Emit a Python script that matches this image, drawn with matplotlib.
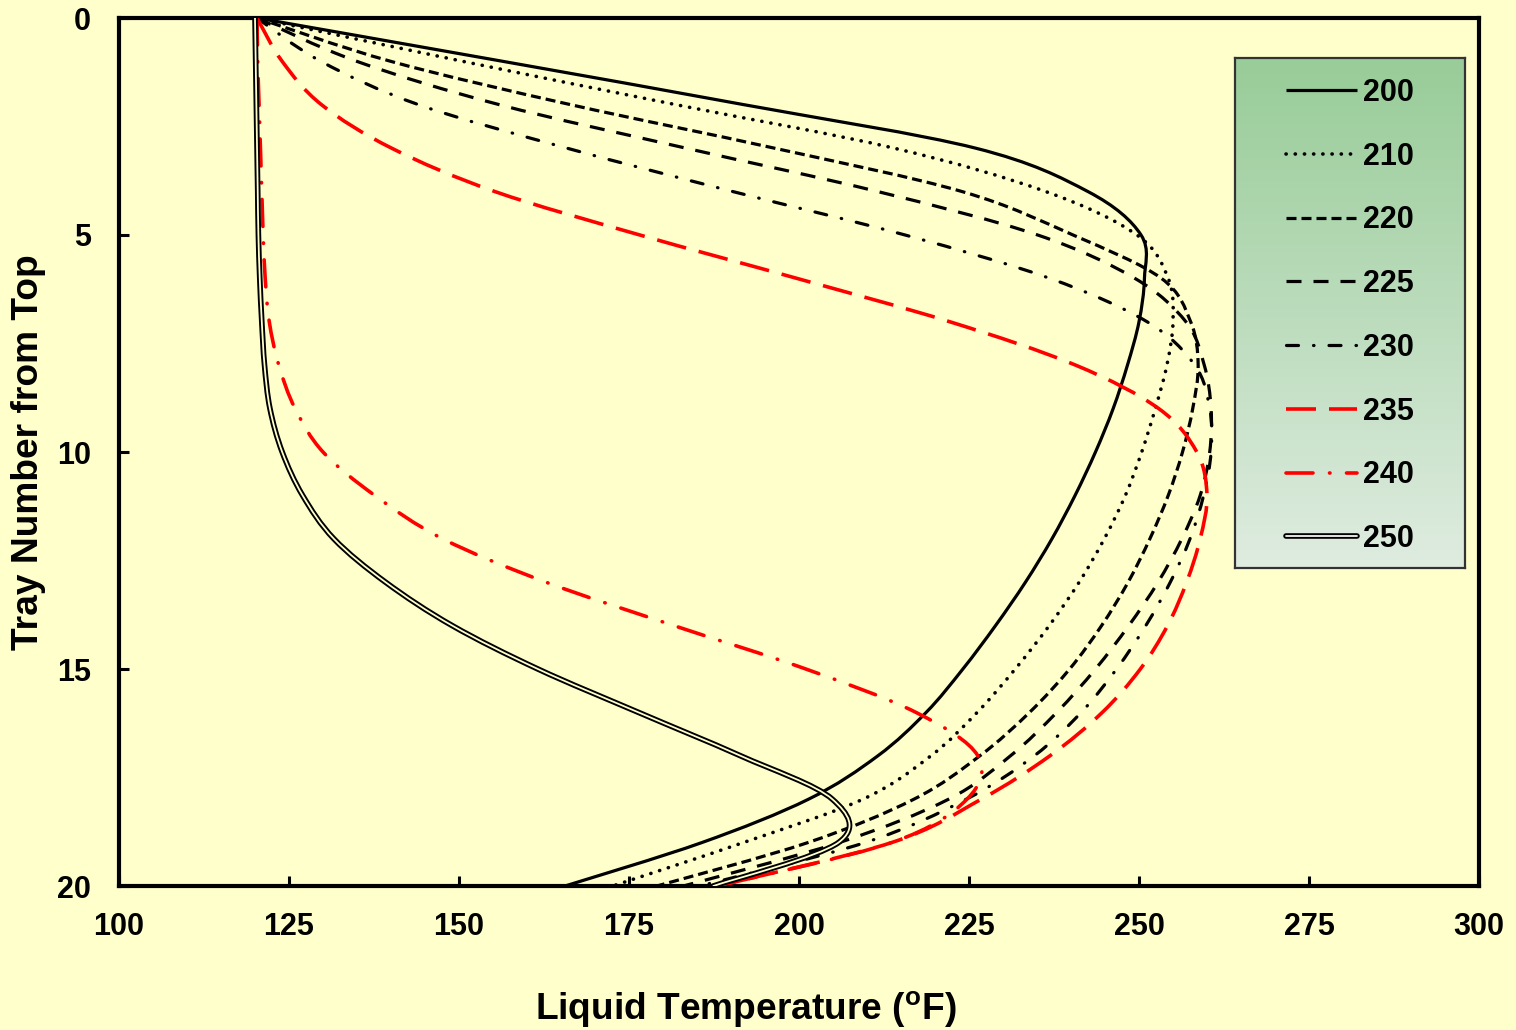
import numpy as np
import matplotlib
matplotlib.use("Agg")
import matplotlib.pyplot as plt
from matplotlib.path import Path
from matplotlib.patches import PathPatch
from matplotlib.lines import Line2D
from matplotlib.colors import LinearSegmentedColormap

# ---- data: liquid temperature (°F) on each tray, one list per case ----
trays = list(range(21))
t200 = [120.3, 156.5, 192.0, 226.0, 242.5, 250.3, 250.8, 250.0, 248.3, 246.2, 243.6,
        240.6, 237.2, 233.3, 228.9, 224.1, 218.7, 211.6, 201.4, 185.7, 165.6]
t210 = [120.3, 150.6, 182.0, 214.0, 236.3, 249.7, 254.3, 255.0, 254.1, 252.4, 250.4,
        248.0, 244.9, 241.2, 236.8, 231.8, 226.2, 219.4, 209.4, 191.8, 172.6]
t220 = [120.3, 140.0, 166.5, 196.4, 224.0, 240.3, 253.3, 257.6, 258.7, 257.9, 256.4,
        254.3, 251.6, 248.4, 244.5, 239.8, 233.9, 226.6, 216.9, 201.3, 179.1]
t225 = [120.3, 135.0, 156.0, 183.4, 211.6, 235.1, 249.4, 256.9, 259.6, 260.6, 260.4,
        259.0, 256.3, 252.8, 248.5, 243.6, 237.9, 231.1, 222.0, 205.9, 183.0]
t230 = [120.3, 129.7, 144.1, 165.9, 190.3, 215.6, 236.9, 251.2, 258.2, 260.4, 260.6,
        259.5, 257.5, 254.6, 251.0, 246.7, 241.5, 234.6, 224.6, 209.7, 185.4]
t235 = [120.3, 124.0, 129.8, 140.1, 155.3, 176.6, 199.7, 222.2, 240.7, 252.9, 258.5,
        260.0, 259.0, 257.0, 254.2, 250.2, 244.6, 236.9, 226.8, 213.6, 188.0]
t240 = [120.3, 120.4, 120.6, 120.8, 121.0, 121.2, 121.5, 122.1, 123.5, 125.9, 130.0,
        137.6, 147.6, 162.8, 181.6, 201.0, 217.2, 226.3, 224.7, 213.6, 188.0]
t250 = [120.0, 120.1, 120.2, 120.3, 120.4, 120.5, 120.7, 121.0, 121.4, 122.2, 124.0,
        127.0, 131.6, 139.2, 149.0, 161.6, 176.4, 191.4, 204.9, 205.8, 187.4]

series_labels = ["200", "210", "220", "225", "230", "235", "240", "250"]
series_values = [t200, t210, t220, t225, t230, t235, t240, t250]

x_ticks = [100, 125, 150, 175, 200, 225, 250, 275, 300]
y_ticks = [0, 5, 10, 15, 20]

# ---- styling ----
BG = "#FFFFCC"
FONT = "Liberation Sans"
plt.rcParams["font.family"] = [FONT, "DejaVu Sans"]
plt.rcParams["font.weight"] = "bold"
plt.rcParams["lines.scale_dashes"] = False
plt.rcParams["mathtext.fontset"] = "custom"
plt.rcParams["mathtext.rm"] = FONT + ":bold"
plt.rcParams["mathtext.bf"] = FONT + ":bold"

PX = 72.0 / 100.0  # points per pixel at 100 dpi

styles = {
    "200": dict(color="black", lw=3.2 * PX, ls="-", cap="round"),
    "210": dict(color="black", lw=3.6 * PX, ls=(0, (0.2 * PX, 9.0 * PX)), cap="round"),
    "220": dict(color="black", lw=3.2 * PX, ls=(0, (10 * PX, 5 * PX)), cap="butt"),
    "225": dict(color="black", lw=3.2 * PX, ls=(0, (15 * PX, 12 * PX)), cap="butt"),
    "230": dict(color="black", lw=3.2 * PX,
                ls=(0, (12 * PX, 15 * PX, 0.5 * PX, 15 * PX)), cap="round"),
    "235": dict(color="#FF0000", lw=3.6 * PX, ls=(0, (30 * PX, 13 * PX)), cap="butt"),
    "240": dict(color="#FF0000", lw=3.6 * PX,
                ls=(0, (27 * PX, 16.5 * PX, 0.5 * PX, 16.5 * PX)), cap="round"),
}


def smooth_path(xs, ys):
    """Cubic Bezier path through the points (Catmull-Rom style smoothing)."""
    P = np.column_stack([xs, ys]).astype(float)
    n = len(P)
    verts = [P[0]]
    codes = [Path.MOVETO]
    for i in range(n - 1):
        p0 = P[i - 1] if i > 0 else P[i]
        p1, p2 = P[i], P[i + 1]
        p3 = P[i + 2] if i + 2 < n else P[i + 1]
        verts += [p1 + (p2 - p0) / 6.0, p2 - (p3 - p1) / 6.0, p2]
        codes += [Path.CURVE4] * 3
    return Path(verts, codes)


fig = plt.figure(figsize=(15.16, 10.30), dpi=100, facecolor=BG)
ax = fig.add_axes([119 / 1516, 1 - 886 / 1030, 1360 / 1516, 868 / 1030])
ax.set_facecolor(BG)
ax.set_xlim(100, 300)
ax.set_ylim(20, 0)

handles = []
for lab, vals in zip(series_labels, series_values):
    path = smooth_path(vals, trays)
    if lab == "250":
        outer = PathPatch(path, fill=False, edgecolor="black", lw=5.6 * PX,
                          joinstyle="round", capstyle="round", zorder=3)
        inner = PathPatch(path, fill=False, edgecolor=BG, lw=1.8 * PX,
                          joinstyle="round", capstyle="round", zorder=3.1)
        ax.add_patch(outer)
        ax.add_patch(inner)
        handles.append((Line2D([], [], color="black", lw=5.6 * PX, solid_capstyle="round"),
                        Line2D([], [], color="#F4F8F2", lw=1.8 * PX, solid_capstyle="round")))
    else:
        st = styles[lab]
        patch = PathPatch(path, fill=False, edgecolor=st["color"], lw=st["lw"],
                          linestyle=st["ls"], joinstyle="round", capstyle=st["cap"],
                          zorder=3)
        ax.add_patch(patch)
        h = Line2D([], [], color=st["color"], lw=st["lw"], linestyle=st["ls"])
        h.set_dash_capstyle(st["cap"])
        h.set_solid_capstyle("butt")
        handles.append(h)

# axes frame and ticks
for sp in ax.spines.values():
    sp.set_linewidth(3.0)
    sp.set_color("black")
ax.set_xticks(x_ticks)
ax.set_yticks(y_ticks)
ax.set_xticklabels([str(v) for v in x_ticks])
ax.set_yticklabels([str(v) for v in y_ticks])
ax.tick_params(axis="both", direction="in", length=7, width=2.2, colors="black",
               labelsize=22)
ax.tick_params(axis="x", pad=19)
ax.tick_params(axis="y", pad=20)
for t in ax.get_xticklabels() + ax.get_yticklabels():
    t.set_fontweight("bold")

# axis titles
fig.text(746 / 1516, 1 - 1020 / 1030, r"Liquid Temperature ($^{\mathbf{o}}$F)",
         ha="center", va="baseline", fontsize=26.7, fontweight="bold")
fig.text(29 / 1516, 1 - 452 / 1030, "Tray Number from Top", rotation=90,
         ha="center", va="center", fontsize=26.7, fontweight="bold")

# legend panel with a vertical green gradient
lax = fig.add_axes([1235 / 1516, 1 - 568 / 1030, 230 / 1516, 510 / 1030])
grad = np.linspace(0, 1, 256).reshape(-1, 1)
cmap = LinearSegmentedColormap.from_list("leg", ["#DFECE0", "#98CC98"])
lax.imshow(grad, aspect="auto", cmap=cmap, origin="lower", extent=[0, 1, 0, 1])
lax.set_xlim(0, 1)
lax.set_ylim(0, 1)
lax.set_xticks([])
lax.set_yticks([])
for sp in lax.spines.values():
    sp.set_linewidth(1.6)
    sp.set_color("#333333")

leg = lax.legend(handles, series_labels, loc="center",
                 bbox_to_anchor=(0.5, 0.5 - 3.0 / 510), frameon=False,
                 prop={"family": FONT, "weight": "bold", "size": 22},
                 handlelength=2.3, handletextpad=0.2, labelspacing=1.105,
                 borderaxespad=0.0)

fig.savefig("out.png", dpi=100, facecolor=BG)
